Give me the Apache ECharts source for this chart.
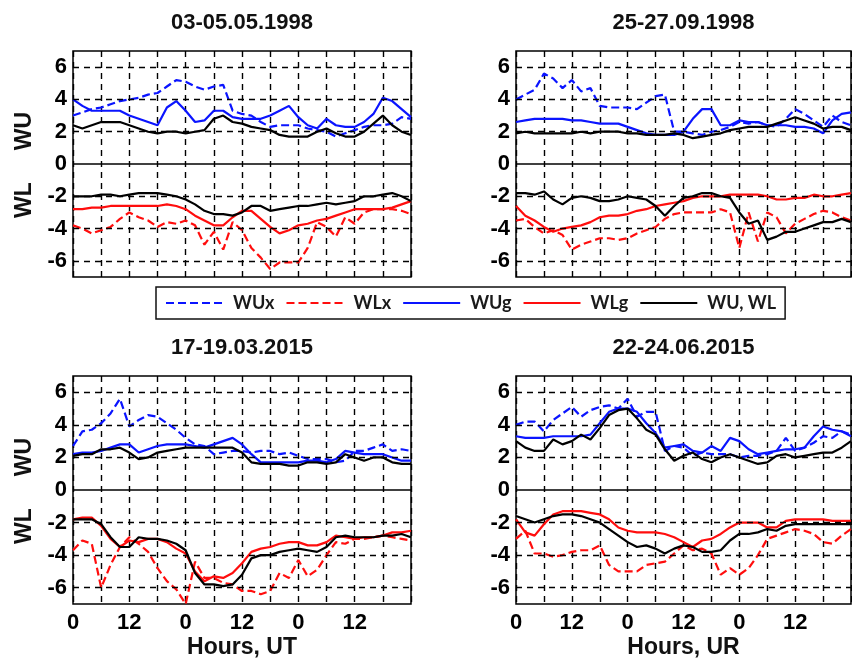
<!DOCTYPE html>
<html><head><meta charset="utf-8">
<script src="https://cdn.jsdelivr.net/npm/echarts@6/dist/echarts.min.js"></script>
<style>html,body{margin:0;padding:0;background:#fff}#c{width:852px;height:660px}</style>
</head><body><div id="c"></div>
<script>
// time axis (hours from start of the 3-day interval)
const hours = [0,2,4,6,8,10,12,14,16,18,20,22,24,26,28,30,32,34,36,38,40,42,44,46,48,50,52,54,56,58,60,62,64,66,68,70,72];
const xTickHours = [0,12,24,36,48,60];
const xTickText = ['0','12','0','12','0','12'];
const yTicks = [-6,-4,-2,0,2,4,6];
const seriesNames = ['WUx','WLx','WUg','WLg','WU, WL'];
const panelTitles = ['03-05.05.1998','25-27.09.1998','17-19.03.2015','22-24.06.2015'];
const xAxisNames = ['', '', 'Hours, UT', 'Hours, UR'];

// Panel 1: 03-05.05.1998
const tl_WUx = [3.0,3.2,3.4,3.5,3.7,3.9,4.0,4.1,4.3,4.4,4.8,5.2,5.1,4.8,4.6,4.8,4.9,3.3,3.1,3.0,2.6,2.3,2.4,2.4,2.4,2.2,2.1,2.0,1.7,1.9,2.1,2.3,2.4,2.4,2.5,2.9,2.8];
const tl_WLx = [-3.8,-4.0,-4.3,-4.1,-3.9,-3.4,-3.0,-3.3,-3.5,-3.9,-3.6,-3.7,-3.5,-3.8,-5.0,-4.2,-5.3,-3.6,-4.1,-5.2,-5.8,-6.5,-6.1,-6.1,-6.1,-5.2,-3.6,-3.9,-4.5,-3.3,-3.7,-3.0,-2.8,-2.8,-2.8,-2.9,-3.1];
const tl_WUg = [4.0,3.6,3.3,3.3,3.3,3.3,3.0,2.8,2.6,2.4,3.5,3.9,3.3,2.6,2.7,3.3,3.3,2.9,2.8,2.8,2.8,3.0,3.3,3.6,2.9,2.4,2.2,2.8,2.4,2.3,2.3,2.6,3.1,4.1,3.9,3.4,2.9];
const tl_WLg = [-2.8,-2.8,-2.7,-2.7,-2.6,-2.6,-2.6,-2.6,-2.6,-2.6,-2.5,-2.6,-2.8,-3.2,-3.5,-3.8,-3.8,-3.3,-2.9,-2.9,-3.4,-3.9,-4.3,-4.1,-3.8,-3.7,-3.5,-3.4,-3.2,-3.0,-2.8,-2.8,-2.8,-2.8,-2.7,-2.5,-2.3];
const tl_WU = [2.4,2.2,2.4,2.6,2.6,2.6,2.4,2.2,2.0,1.9,2.0,2.0,1.9,2.0,2.1,2.8,3.0,2.6,2.5,2.3,2.2,2.1,1.8,1.7,1.7,1.7,2.0,2.2,1.9,1.7,1.7,2.0,2.5,3.0,2.4,2.0,1.8];
const tl_WL = [-2.0,-2.0,-2.0,-1.9,-1.9,-2.0,-1.9,-1.8,-1.8,-1.8,-1.9,-2.0,-2.2,-2.5,-2.9,-3.1,-3.1,-3.2,-3.0,-2.6,-2.6,-2.9,-2.8,-2.7,-2.6,-2.6,-2.5,-2.4,-2.5,-2.4,-2.3,-2.0,-2.0,-1.9,-1.8,-2.0,-2.3];

// Panel 2: 25-27.09.1998
const tr_WUx = [4.0,4.3,4.6,5.6,5.3,4.7,5.2,4.5,4.7,3.6,3.5,3.5,3.5,3.4,3.8,4.2,4.3,2.0,2.0,1.9,1.8,2.0,2.1,2.3,2.6,2.5,2.6,2.4,2.3,2.8,3.4,3.1,2.7,2.3,3.0,2.6,2.4];
const tr_WLx = [-3.5,-3.4,-3.9,-4.3,-4.1,-4.4,-5.3,-5.0,-4.8,-4.6,-4.6,-4.7,-4.6,-4.3,-4.1,-3.9,-3.4,-3.1,-3.0,-3.0,-3.0,-3.0,-2.8,-3.0,-5.2,-3.0,-4.8,-3.0,-3.3,-4.3,-3.7,-3.4,-3.1,-2.9,-3.0,-3.3,-3.5];
const tr_WUg = [2.6,2.7,2.8,2.8,2.8,2.8,2.7,2.7,2.6,2.5,2.5,2.5,2.3,2.1,1.9,1.8,1.8,1.8,2.0,2.8,3.4,3.4,2.4,2.4,2.7,2.6,2.6,2.4,2.4,2.4,2.3,2.3,2.2,1.9,2.7,3.1,3.2];
const tr_WLg = [-2.6,-3.2,-3.5,-3.9,-4.2,-4.0,-3.9,-3.8,-3.6,-3.3,-3.2,-3.2,-3.1,-2.9,-2.8,-2.6,-2.5,-2.4,-2.3,-2.1,-2.0,-2.0,-2.0,-1.9,-1.9,-1.9,-1.9,-2.0,-2.2,-2.2,-2.1,-2.1,-1.9,-2.0,-2.0,-1.9,-1.8];
const tr_WU = [1.9,2.0,1.9,1.9,1.9,1.9,1.9,2.0,1.9,2.0,2.0,2.0,1.9,1.9,1.8,1.8,1.8,1.9,1.8,1.6,1.7,1.8,1.9,2.1,2.2,2.3,2.3,2.3,2.5,2.7,2.9,2.7,2.5,2.2,2.3,2.3,2.1];
const tr_WL = [-1.8,-1.8,-1.9,-1.7,-2.2,-2.5,-2.1,-2.0,-2.1,-2.3,-2.3,-2.2,-2.0,-2.1,-2.2,-2.6,-3.2,-2.6,-2.1,-2.0,-1.8,-1.8,-2.0,-2.1,-3.0,-3.7,-3.5,-4.7,-4.5,-4.2,-4.2,-4.0,-3.8,-3.6,-3.6,-3.4,-3.6];

// Panel 3: 17-19.03.2015
const bl_WUx = [2.7,3.6,3.7,4.1,4.7,5.6,3.9,4.3,4.6,4.5,4.1,3.7,3.2,2.8,2.7,2.2,2.3,2.4,2.4,2.3,2.4,2.4,2.2,2.3,2.1,1.9,1.9,1.9,1.7,1.8,2.4,2.4,2.6,2.8,2.4,2.5,2.4];
const bl_WLx = [-3.7,-3.1,-3.3,-6.0,-4.6,-3.5,-2.9,-3.3,-3.8,-4.8,-5.6,-6.1,-7.0,-4.4,-5.4,-5.4,-5.7,-5.8,-6.2,-6.2,-6.4,-6.2,-5.1,-5.4,-4.3,-5.3,-4.9,-4.0,-3.2,-3.3,-3.0,-3.0,-2.9,-2.8,-2.9,-3.0,-3.1];
const bl_WUg = [2.2,2.3,2.3,2.4,2.6,2.8,2.8,2.3,2.5,2.7,2.8,2.8,2.8,2.7,2.6,2.8,3.0,3.2,2.8,2.2,1.7,1.7,1.7,1.7,1.7,1.8,1.8,1.7,1.9,2.4,2.3,2.2,2.2,2.2,2.0,1.8,1.8];
const bl_WLg = [-1.8,-1.7,-1.7,-2.2,-3.0,-3.5,-3.1,-3.2,-3.0,-3.0,-3.2,-3.6,-3.9,-5.0,-5.6,-5.3,-5.4,-5.1,-4.5,-3.8,-3.6,-3.5,-3.3,-3.2,-3.2,-3.4,-3.4,-3.2,-2.8,-2.9,-3.0,-2.9,-2.9,-2.8,-2.6,-2.6,-2.5];
const bl_WU = [2.1,2.2,2.2,2.5,2.5,2.6,2.3,1.9,2.0,2.3,2.4,2.5,2.6,2.6,2.6,2.6,2.6,2.6,2.3,1.7,1.6,1.6,1.6,1.5,1.5,1.7,1.7,1.6,1.7,2.2,2.0,1.8,2.0,2.0,1.7,1.6,1.6];
const bl_WL = [-1.8,-1.8,-1.8,-2.1,-2.9,-3.5,-3.5,-2.9,-3.0,-3.0,-3.1,-3.3,-3.7,-5.1,-5.8,-5.8,-5.9,-5.8,-5.2,-4.2,-4.0,-4.0,-3.8,-3.7,-3.6,-3.7,-3.8,-3.5,-2.9,-2.8,-2.9,-2.9,-2.9,-2.8,-2.8,-2.7,-2.9];

// Panel 4: 22-24.06.2015
const br_WUx = [4.0,4.2,4.2,3.6,4.3,4.7,5.1,4.5,4.9,5.1,5.2,5.0,5.6,4.5,4.8,4.8,2.4,2.7,2.6,2.1,2.3,2.2,2.2,2.2,2.0,2.1,2.1,2.2,2.4,3.2,2.4,2.6,2.9,3.3,3.2,3.6,3.4];
const br_WLx = [-3.0,-2.5,-3.9,-3.9,-4.1,-4.0,-3.8,-3.7,-3.7,-3.4,-4.6,-5.0,-5.0,-5.0,-4.6,-4.5,-4.4,-3.9,-3.4,-3.7,-3.6,-3.9,-5.2,-4.8,-5.2,-4.8,-4.0,-3.0,-2.8,-2.6,-2.4,-2.5,-2.7,-3.2,-3.3,-2.8,-2.4];
const br_WUg = [3.3,3.2,3.2,3.2,3.3,3.3,3.3,3.3,3.4,4.1,4.8,5.0,5.0,4.8,4.1,3.5,2.6,2.7,2.8,2.4,2.3,2.7,2.4,3.2,3.0,2.5,2.2,2.3,2.4,2.5,2.5,2.6,3.3,3.9,3.7,3.6,3.3];
const br_WLg = [-1.8,-2.6,-2.8,-2.1,-1.5,-1.3,-1.3,-1.3,-1.4,-1.5,-1.8,-2.3,-2.5,-2.6,-2.6,-2.6,-2.7,-2.9,-3.2,-3.5,-3.1,-3.0,-2.7,-2.3,-2.0,-2.0,-2.0,-2.3,-2.3,-1.9,-1.8,-1.8,-1.8,-1.8,-1.9,-1.9,-1.9];
const br_WU = [3.0,2.6,2.4,2.4,3.1,2.8,3.0,3.4,3.1,3.8,4.6,4.9,5.0,4.4,3.7,3.4,2.5,1.8,2.1,2.3,1.9,1.7,2.0,2.2,2.0,1.8,1.6,1.7,2.1,2.2,2.0,2.1,2.2,2.3,2.3,2.6,3.0];
const br_WL = [-1.6,-1.8,-2.0,-1.8,-1.6,-1.5,-1.5,-1.6,-1.8,-2.0,-2.4,-2.8,-3.2,-3.5,-3.4,-3.6,-3.9,-3.6,-3.4,-3.5,-3.8,-3.8,-3.7,-3.1,-2.7,-2.7,-2.6,-2.4,-2.5,-2.2,-2.1,-2.1,-2.1,-2.1,-2.1,-2.1,-2.1];

const panelData = [
  [tl_WUx, tl_WLx, tl_WUg, tl_WLg, tl_WU, tl_WL],
  [tr_WUx, tr_WLx, tr_WUg, tr_WLg, tr_WU, tr_WL],
  [bl_WUx, bl_WLx, bl_WUg, bl_WLg, bl_WU, bl_WL],
  [br_WUx, br_WLx, br_WUg, br_WLg, br_WU, br_WL]
];

// ---- layout / style ----
const grids = [
  {left: 73, top: 51, width: 338, height: 226},
  {left: 516, top: 51, width: 335, height: 226},
  {left: 73, top: 376, width: 338, height: 228},
  {left: 516, top: 376, width: 335, height: 228}
];
const BLUE = '#0a14ff', RED = '#ff0d0d', BLACK = '#000000';
const DASH = [8, 4];
const styleOf = [
  {name: 'WUx', color: BLUE, type: DASH},
  {name: 'WLx', color: RED, type: DASH},
  {name: 'WUg', color: BLUE, type: 'solid'},
  {name: 'WLg', color: RED, type: 'solid'},
  {name: 'WU, WL', color: BLACK, type: 'solid'},
  {name: 'WU, WL', color: BLACK, type: 'solid'}
];
const TICKFONT = 'Liberation Sans, Arial, sans-serif';

const option = {
  animation: false,
  backgroundColor: '#ffffff',
  grid: grids.map(g => Object.assign({show: true, borderColor: '#000', borderWidth: 1.5, backgroundColor: 'transparent', containLabel: false}, g)),
  xAxis: grids.map((g, i) => ({
    type: 'value', gridIndex: i, min: 0, max: 72, interval: 6,
    axisLine: {show: false}, axisTick: {show: false},
    axisLabel: {
      show: i >= 2, margin: 8, color: '#000',
      fontFamily: TICKFONT, fontWeight: 'bold', fontSize: 22,
      showMaxLabel: false,
      formatter: v => { const k = xTickHours.indexOf(v); return k >= 0 ? xTickText[k] : ''; }
    },
    splitLine: {show: true, lineStyle: {color: '#000', type: [6, 5], width: 1.4}}
  })),
  yAxis: grids.map((g, i) => ({
    type: 'value', gridIndex: i, min: -7, max: 7, interval: 1,
    axisLine: {show: false}, axisTick: {show: false},
    axisLabel: {
      margin: 6, color: '#000', fontFamily: TICKFONT, fontWeight: 'bold', fontSize: 22,
      formatter: v => (yTicks.indexOf(v) >= 0 ? String(v) : '')
    },
    splitLine: {show: false}
  })),
  legend: {
    left: 156, top: 287, orient: 'horizontal',
    padding: [7, 9, 7, 9], itemGap: 11, itemWidth: 57, itemHeight: 14,
    borderColor: '#111', borderWidth: 1.5,
    data: seriesNames,
    itemStyle: {color: 'transparent', borderColor: 'transparent', borderWidth: 0, opacity: 0},
    textStyle: {fontFamily: 'Lato, Open Sans, sans-serif', fontWeight: 'bold', fontSize: 18, color: '#1a1a1a', padding: [0, 0, 0, 5]}
  },
  graphic: [],
  series: []
};

panelData.forEach((arrs, p) => {
  arrs.forEach((vals, s) => {
    const st = styleOf[s];
    const ser = {
      type: 'line', name: st.name, xAxisIndex: p, yAxisIndex: p,
      data: hours.map((h, k) => [h, vals[k]]),
      symbol: 'none', showSymbol: false, silent: true,
      lineStyle: {color: st.color, width: 2.2, type: st.type},
      itemStyle: {color: st.color},
      z: s >= 4 ? 5 : 3
    };
    if (s === 0) {
      ser.markLine = {
        silent: true, symbol: 'none', label: {show: false},
        animation: false,
        data: yTicks.map(t => ({
          yAxis: t,
          lineStyle: t === 0 ? {color: '#000', type: 'solid', width: 1.6} : {color: '#000', type: [6, 5], width: 1.4}
        }))
      };
    }
    option.series.push(ser);
  });
  const g = grids[p];
  const cx = g.left + g.width / 2;
  option.graphic.push({
    type: 'text', x: cx, y: p < 2 ? 23 : 348, silent: true,
    style: {text: panelTitles[p], align: 'center', verticalAlign: 'middle', textAlign: 'center', textVerticalAlign: 'middle',
      font: 'bold 22px Liberation Sans, Arial, sans-serif', fill: '#111'}
  });
  if (xAxisNames[p]) {
    option.graphic.push({
      type: 'text', x: cx, y: 648, silent: true,
      style: {text: xAxisNames[p], align: 'center', verticalAlign: 'middle', textAlign: 'center', textVerticalAlign: 'middle',
        font: 'bold 23px Liberation Sans, Arial, sans-serif', fill: '#111'}
    });
  }
  if (p % 2 === 0) {
    const zeroY = g.top + g.height / 2;
    [['WU', zeroY - 33], ['WL', zeroY + 36]].forEach(([t, y]) => {
      option.graphic.push({
        type: 'text', x: 25, y: y, rotation: Math.PI / 2, silent: true,
        style: {text: t, align: 'center', verticalAlign: 'middle', textAlign: 'center', textVerticalAlign: 'middle',
          font: 'bold 23px Liberation Sans, Arial, sans-serif', fill: '#111'}
      });
    });
  }
});

const chart = echarts.init(document.getElementById('c'), null, {renderer: 'canvas'});
chart.setOption(option);
</script>
</body></html>
